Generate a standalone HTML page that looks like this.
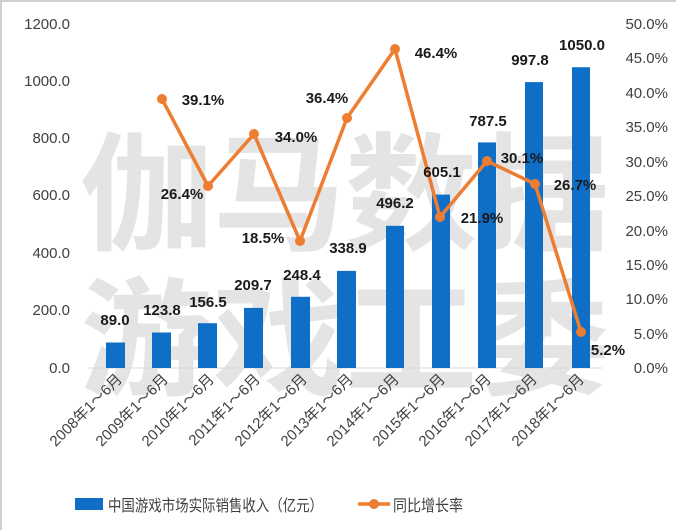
<!DOCTYPE html><html><head><meta charset="utf-8"><style>
body{margin:0;background:#fff}
svg{display:block}
text{font-family:"Liberation Sans","Noto Sans CJK SC",sans-serif}
</style></head><body>
<svg width="676" height="530" viewBox="0 0 676 530">
<rect x="1" y="1" width="690" height="540" fill="#fff" stroke="#d0d0d0" stroke-width="2"/>
<g font-size="128" fill="#e4e4e4" font-weight="bold">
<text x="80" y="240" textLength="530" lengthAdjust="spacingAndGlyphs" style="font-family:'Noto Sans CJK SC',sans-serif">伽马数据</text>
<text x="80" y="385" textLength="530" lengthAdjust="spacingAndGlyphs" style="font-family:'Noto Sans CJK SC',sans-serif">游戏工委</text>
</g>
<line x1="88" y1="368" x2="602" y2="368" stroke="#d9d9d9" stroke-width="1"/>
<g font-size="15" fill="#404040" text-anchor="end">
<text x="70" y="29">1200.0</text><text x="70" y="86">1000.0</text><text x="70" y="143">800.0</text>
<text x="70" y="200">600.0</text><text x="70" y="258">400.0</text><text x="70" y="315">200.0</text><text x="70" y="373">0.0</text>
</g>
<g font-size="15" fill="#404040" text-anchor="end">
<text x="668" y="29">50.0%</text><text x="668" y="63">45.0%</text><text x="668" y="98">40.0%</text>
<text x="668" y="132">35.0%</text><text x="668" y="167">30.0%</text><text x="668" y="201">25.0%</text>
<text x="668" y="236">20.0%</text><text x="668" y="270">15.0%</text><text x="668" y="304">10.0%</text>
<text x="668" y="339">5.0%</text><text x="668" y="373">0.0%</text>
</g>
<g fill="#0f6fc6">
<rect x="106" y="342.5" width="19" height="25.5"/>
<rect x="152" y="332.5" width="19" height="35.5"/>
<rect x="198" y="323.2" width="19" height="44.8"/>
<rect x="244" y="307.9" width="19" height="60.1"/>
<rect x="291" y="296.8" width="19" height="71.2"/>
<rect x="337" y="270.9" width="19" height="97.1"/>
<rect x="386" y="225.8" width="18" height="142.2"/>
<rect x="432" y="194.6" width="18" height="173.4"/>
<rect x="478" y="142.4" width="18" height="225.6"/>
<rect x="525" y="82.1" width="18" height="285.9"/>
<rect x="572" y="67.2" width="18" height="300.8"/>
</g>
<polyline points="162,99 208,186 254,134 300,241 347,118 395,49 440,217 487,161 535,184 581,332" fill="none" stroke="#ed7d31" stroke-width="3.5" stroke-linejoin="round"/>
<g fill="#ed7d31">
<circle cx="162" cy="99" r="5"/><circle cx="208" cy="186" r="5"/><circle cx="254" cy="134" r="5"/><circle cx="300" cy="241" r="5"/><circle cx="347" cy="118" r="5"/><circle cx="395" cy="49" r="5"/><circle cx="440" cy="217" r="5"/><circle cx="487" cy="161" r="5"/><circle cx="535" cy="184" r="5"/><circle cx="581" cy="332" r="5"/>
</g>
<g font-size="15" font-weight="bold" fill="#1a1a1a" text-anchor="middle">
<text x="115" y="325">89.0</text><text x="162" y="315">123.8</text><text x="208" y="307">156.5</text>
<text x="253" y="290">209.7</text><text x="302" y="280">248.4</text><text x="348" y="253">338.9</text>
<text x="395" y="208">496.2</text><text x="442" y="177">605.1</text><text x="488" y="126">787.5</text>
<text x="530" y="65">997.8</text><text x="582" y="50">1050.0</text>
<text x="203" y="105">39.1%</text><text x="182" y="199">26.4%</text><text x="296" y="142">34.0%</text>
<text x="263" y="243">18.5%</text><text x="327" y="103">36.4%</text><text x="436" y="58">46.4%</text>
<text x="482" y="223">21.9%</text><text x="522" y="163">30.1%</text><text x="575" y="190">26.7%</text>
<text x="608" y="355">5.2%</text>
</g>
<g font-size="15" fill="#404040" text-anchor="end">
<text transform="translate(123,380) rotate(-45)">2008年1～6月</text>
<text transform="translate(169,380) rotate(-45)">2009年1～6月</text>
<text transform="translate(215,380) rotate(-45)">2010年1～6月</text>
<text transform="translate(261,380) rotate(-45)">2011年1～6月</text>
<text transform="translate(308,380) rotate(-45)">2012年1～6月</text>
<text transform="translate(354,380) rotate(-45)">2013年1～6月</text>
<text transform="translate(400,380) rotate(-45)">2014年1～6月</text>
<text transform="translate(446,380) rotate(-45)">2015年1～6月</text>
<text transform="translate(492,380) rotate(-45)">2016年1～6月</text>
<text transform="translate(538,380) rotate(-45)">2017年1～6月</text>
<text transform="translate(585,380) rotate(-45)">2018年1～6月</text>
</g>
<rect x="75" y="498" width="28" height="12" fill="#0f6fc6"/>
<text x="108" y="511" font-size="16" fill="#404040" textLength="215" lengthAdjust="spacingAndGlyphs">中国游戏市场实际销售收入（亿元）</text>
<line x1="358" y1="504" x2="390" y2="504" stroke="#ed7d31" stroke-width="3.5"/>
<circle cx="374" cy="504" r="5" fill="#ed7d31"/>
<text x="393" y="511" font-size="16" fill="#404040" textLength="70" lengthAdjust="spacingAndGlyphs">同比增长率</text>
</svg>
</body></html>
